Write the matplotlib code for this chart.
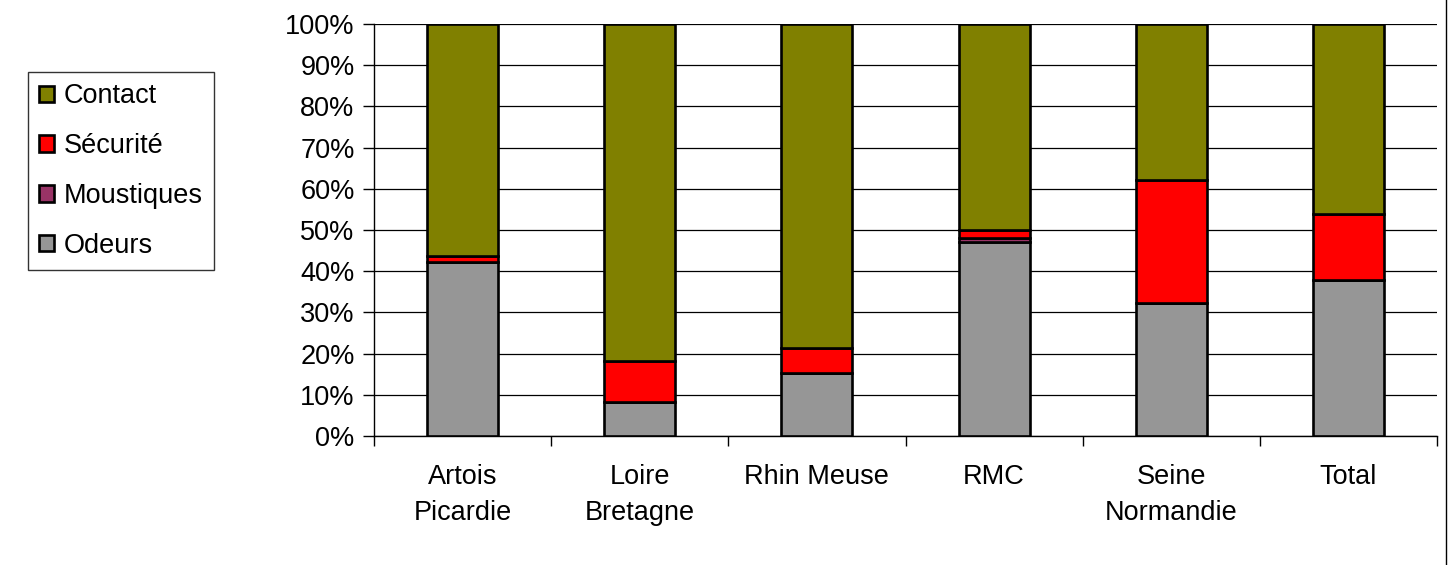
import numpy as np
import matplotlib.pyplot as plt
from matplotlib.lines import Line2D

plt.rcParams['font.family'] = ['Liberation Sans', 'DejaVu Sans']

regions = ["Artois\nPicardie", "Loire\nBretagne", "Rhin Meuse", "RMC",
           "Seine\nNormandie", "Total"]

# shares in % (stacked from bottom)
odeurs = [42.3, 8.3, 15.3, 47.2, 32.3, 37.9]
moustiques = [0.0, 0.0, 0.0, 0.9, 0.0, 0.0]
securite = [1.3, 9.9, 6.1, 1.8, 29.8, 16.0]
contact = [56.4, 81.8, 78.6, 50.1, 37.9, 46.1]

series = [
    ("Odeurs", odeurs, "#969696"),
    ("Moustiques", moustiques, "#993366"),
    ("Sécurité", securite, "#FF0000"),
    ("Contact", contact, "#808000"),
]

FS = 19.5

fig = plt.figure(figsize=(14.49, 5.65), dpi=100)
ax = fig.add_axes([374 / 1449, 129 / 565, 1063 / 1449, 412 / 565])

x = np.arange(len(regions))
bottom = np.zeros(len(regions))
handles = []
for name, vals, col in series:
    vals = np.array(vals)
    b = ax.bar(x, vals, 0.4, bottom=bottom, color=col, edgecolor="black",
               linewidth=1.9, label=name, zorder=3)
    bottom += vals
    handles.append(b)

ax.set_xlim(-0.5, len(regions) - 0.5)
ax.set_ylim(0, 100)
ax.set_yticks(np.arange(0, 101, 10))
ax.set_yticklabels([f"{v}%" for v in range(0, 101, 10)])
ax.yaxis.grid(True, color="black", linewidth=0.9, zorder=0)

ax.set_xticks(x)
ax.set_xticklabels(regions, linespacing=1.5, va="top")
ax.set_xticks(np.arange(-0.5, len(regions)), minor=True)
ax.tick_params(axis="x", which="major", length=0, pad=20, labelsize=FS)
ax.tick_params(axis="x", which="minor", length=7, width=1, color="black")
ax.tick_params(axis="y", length=8, width=1, labelsize=FS, pad=6)

for s in ["top", "right"]:
    ax.spines[s].set_visible(False)
ax.spines["left"].set_linewidth(1)
ax.spines["bottom"].set_linewidth(1)

leg_h = [handles[3], handles[2], handles[1], handles[0]]
leg_l = ["Contact", "Sécurité", "Moustiques", "Odeurs"]
leg = fig.legend(leg_h, leg_l, loc="upper left",
                 bbox_to_anchor=(28 / 1449, 1 - 72 / 565),
                 bbox_transform=fig.transFigure, borderaxespad=0,
                 fontsize=FS, frameon=True, fancybox=False,
                 handlelength=0.55, handleheight=0.55, handletextpad=0.35,
                 labelspacing=0.88, borderpad=0.42)
leg.get_frame().set_edgecolor("black")
leg.get_frame().set_linewidth(1)

# outer chart border on the right
fig.add_artist(Line2D([1446 / 1449, 1446 / 1449], [0, 1],
                      transform=fig.transFigure, color="black", linewidth=1))

fig.savefig("out.png", dpi=100)
